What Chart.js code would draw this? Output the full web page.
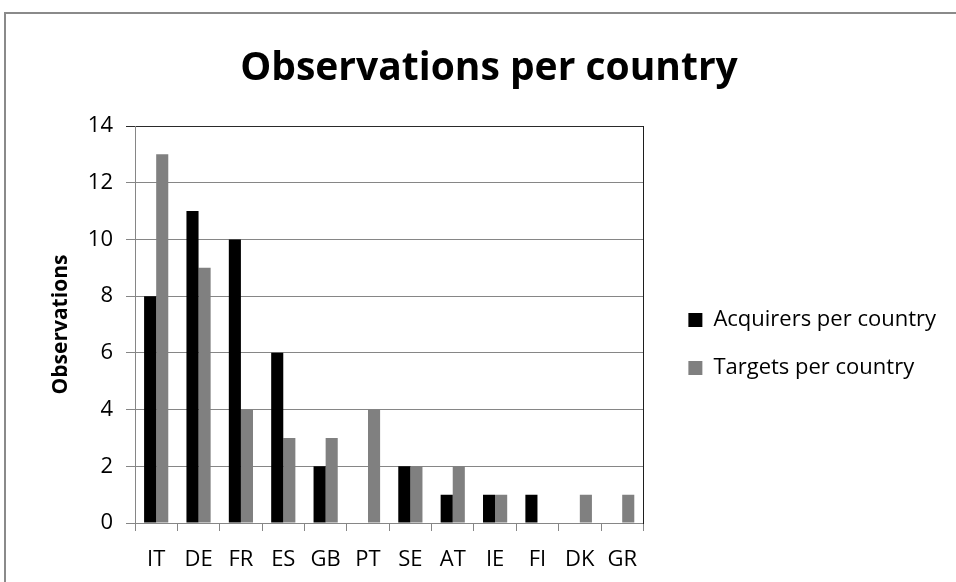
<!DOCTYPE html>
<html>
<head>
<meta charset="utf-8">
<script src="https://cdn.jsdelivr.net/npm/chart.js@4.4.1/dist/chart.umd.min.js"></script>
<style>
  html, body { margin: 0; padding: 0; background: #fff; overflow: hidden; }
  #frame { position: absolute; left: 4px; top: 12px; width: 1200px; height: 1200px;
           border-top: 2px solid #8a8a8a; border-left: 2px solid #8a8a8a; }
  #wrap { position: absolute; left: 0; top: 0; width: 956px; height: 582px; }
</style>
</head>
<body>
<div id="frame"></div>
<div id="wrap"><canvas id="c" width="956" height="582"></canvas></div>
<script>
const titleText = "Observations per country";
const yAxisTitle = "Observations";
const countries = ["IT", "DE", "FR", "ES", "GB", "PT", "SE", "AT", "IE", "FI", "DK", "GR"];
const acquirers = [8, 11, 10, 6, 2, 0, 2, 1, 1, 1, 0, 0];
const targets = [13, 9, 4, 3, 3, 4, 2, 2, 1, 0, 1, 1];
const yTicksMax = 14;
const yTicksStep = 2;

const FONT = "'Open Sans', 'Liberation Sans', sans-serif";

const titlePlugin = {
  id: 'chartTitle',
  afterDraw(chart) {
    const ctx = chart.ctx;
    ctx.save();
    ctx.font = "bold 39px " + FONT;
    ctx.fillStyle = '#000';
    ctx.textAlign = 'center';
    ctx.textBaseline = 'alphabetic';
    ctx.fillText(titleText, 489, 80);
    ctx.restore();
  }
};

new Chart(document.getElementById('c'), {
  type: 'bar',
  data: {
    labels: countries,
    datasets: [
      { label: 'Acquirers per country', data: acquirers, backgroundColor: '#000000',
        categoryPercentage: 0.571, barPercentage: 1.0 },
      { label: 'Targets per country', data: targets, backgroundColor: '#808080',
        categoryPercentage: 0.571, barPercentage: 1.0 }
    ]
  },
  options: {
    responsive: false,
    animation: false,
    devicePixelRatio: 1,
    layout: { padding: { left: 44, top: 126, right: 10, bottom: 9 } },
    plugins: {
      title: { display: false },
      tooltip: { enabled: false },
      legend: {
        position: 'right',
        align: 'center',
        fullSize: false,
        maxWidth: 400,
        title: { display: true, text: '', font: { size: 10 }, padding: { top: 27, bottom: 0 } },
        labels: {
          boxWidth: 14, boxHeight: 14, padding: 26,
          color: '#000',
          font: { family: FONT, size: 22 }
        }
      }
    },
    scales: {
      x: {
        afterFit(scale) { scale.height = 50; },
        grid: { display: true, drawOnChartArea: false, drawTicks: true, tickLength: 8, color: '#868686', offset: true },
        border: { display: true, color: '#868686' },
        ticks: { color: '#000', font: { family: FONT, size: 22 }, padding: 16 }
      },
      y: {
        min: 0, max: yTicksMax,
        afterFit(scale) { scale.width = 91; },
        grid: {
          color: (c) => (c.tick && c.tick.value === yTicksMax) ? '#2a2a2a' : '#868686',
          tickLength: 9, drawTicks: true
        },
        border: { display: true, color: '#868686' },
        ticks: { stepSize: yTicksStep, color: '#000', font: { family: FONT, size: 22 }, padding: 13 },
        title: { display: true, text: yAxisTitle, color: '#000',
                 font: { family: FONT, size: 21, weight: 'bold' }, padding: { top: 4, bottom: 0 } }
      },
      yRight: {
        position: 'right',
        display: true,
        afterFit(scale) { scale.width = 19; },
        grid: { display: false, drawOnChartArea: false },
        border: { display: true, color: '#1e1e1e' },
        ticks: { display: false }
      }
    }
  },
  plugins: [titlePlugin]
});
</script>
</body>
</html>
